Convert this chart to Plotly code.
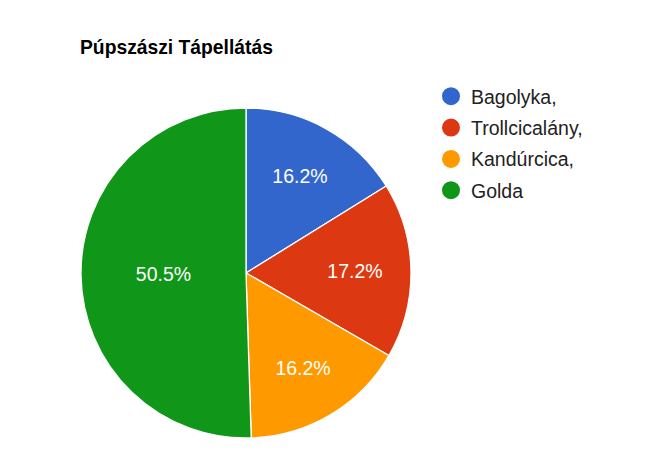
import plotly.graph_objects as go

labels = ['Bagolyka,', 'Trollcicalány,', 'Kandúrcica,', 'Golda']
values = [16, 17, 16, 50]
colors = ['#3366cc', '#dc3912', '#ff9900', '#109618']
title = 'Púpszászi Tápellátás'

W, H = 670, 463
font = 'Arial, Liberation Sans, sans-serif'

fig = go.Figure()
fig.add_trace(go.Pie(
    labels=labels, values=values, sort=False, direction='clockwise', rotation=0,
    marker=dict(colors=colors, line=dict(color='white', width=1.3)),
    texttemplate='%{percent:.1%}', textposition='inside',
    insidetextorientation='horizontal',
    textfont=dict(family=font, size=19.5, color='white'),
    showlegend=False, hoverinfo='label+value+percent',
    domain=dict(x=[81 / W, 411 / W], y=[(H - 438) / H, (H - 108) / H]),
))

# legend entries with round markers
for i, (lab, col) in enumerate(zip(labels, colors)):
    fig.add_trace(go.Scatter(
        x=[None], y=[None], mode='markers', name=lab, legendgroup=str(i),
        marker=dict(symbol='circle', size=16, color=col,
                    line=dict(color=col, width=2)),
    ))

fig.update_layout(
    width=W, height=H,
    margin=dict(l=0, r=0, t=0, b=0),
    paper_bgcolor='white', plot_bgcolor='white',
    font=dict(family=font, color='#222222'),
    title=dict(text='<b>' + title + '</b>', x=80 / W, xanchor='left',
               y=1 - 47 / H, yanchor='middle',
               font=dict(family=font, size=19.3, color='#000000')),
    xaxis=dict(visible=False), yaxis=dict(visible=False),
    legend=dict(x=431 / W, y=1 - 77 / H, xanchor='left', yanchor='top',
                font=dict(family=font, size=19.5, color='#222222'),
                tracegroupgap=3),
)

fig.write_html('out.html', config={'displayModeBar': False},
               post_script="document.body.style.margin='0';")
